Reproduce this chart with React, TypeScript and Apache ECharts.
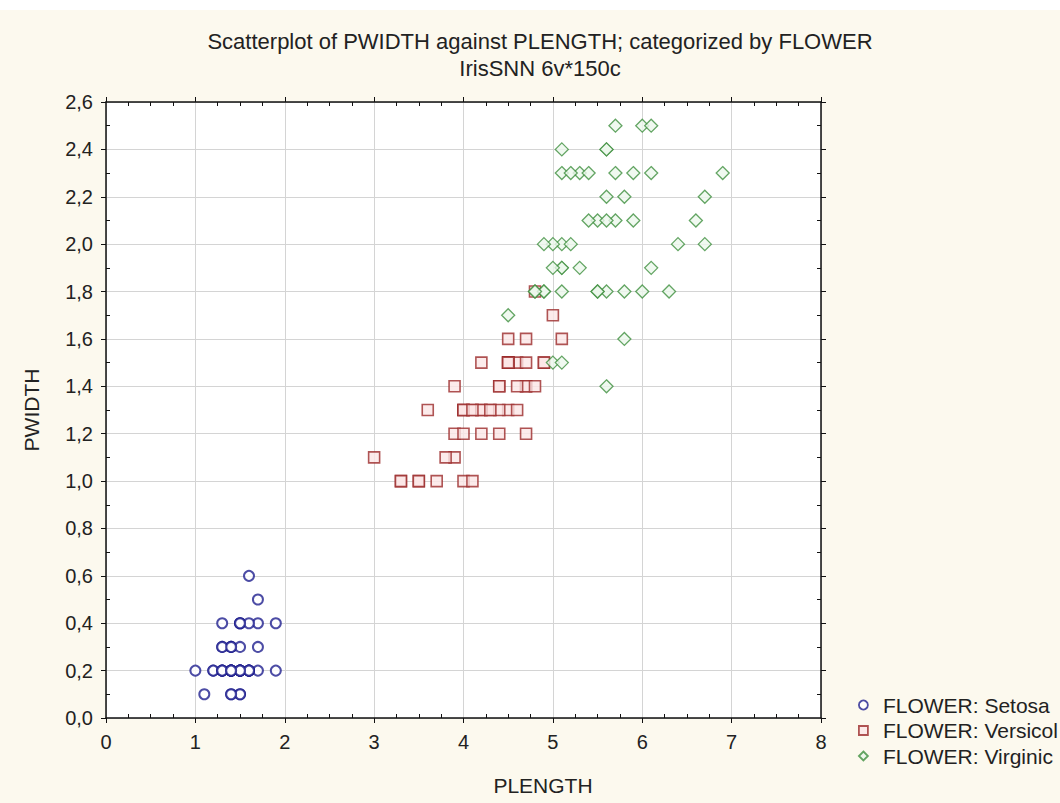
import React, { useEffect, useRef } from "react";
import * as echarts from "echarts";

// Petal length / width per species
const setosaPL = [1.4,1.4,1.3,1.5,1.4,1.7,1.4,1.5,1.4,1.5,1.5,1.6,1.4,1.1,1.2,1.5,1.3,1.4,1.7,1.5,1.7,1.5,1.0,1.7,1.9,1.6,1.6,1.5,1.4,1.6,1.6,1.5,1.5,1.4,1.5,1.2,1.3,1.4,1.3,1.5,1.3,1.3,1.3,1.6,1.9,1.4,1.6,1.4,1.5,1.4];
const setosaPW = [0.2,0.2,0.2,0.2,0.2,0.4,0.3,0.2,0.2,0.1,0.2,0.2,0.1,0.1,0.2,0.4,0.4,0.3,0.3,0.3,0.2,0.4,0.2,0.5,0.2,0.2,0.4,0.2,0.2,0.2,0.2,0.4,0.1,0.2,0.2,0.2,0.2,0.1,0.2,0.2,0.3,0.3,0.2,0.6,0.4,0.3,0.2,0.2,0.2,0.2];
const versicolorPL = [4.7,4.5,4.9,4.0,4.6,4.5,4.7,3.3,4.6,3.9,3.5,4.2,4.0,4.7,3.6,4.4,4.5,4.1,4.5,3.9,4.8,4.0,4.9,4.7,4.3,4.4,4.8,5.0,4.5,3.5,3.8,3.7,3.9,5.1,4.5,4.5,4.7,4.4,4.1,4.0,4.4,4.6,4.0,3.3,4.2,4.2,4.2,4.3,3.0,4.1];
const versicolorPW = [1.4,1.5,1.5,1.3,1.5,1.3,1.6,1.0,1.3,1.4,1.0,1.5,1.0,1.4,1.3,1.4,1.5,1.0,1.5,1.1,1.8,1.3,1.5,1.2,1.3,1.4,1.4,1.7,1.5,1.0,1.1,1.0,1.2,1.6,1.5,1.6,1.5,1.3,1.3,1.3,1.2,1.4,1.2,1.0,1.3,1.2,1.3,1.3,1.1,1.3];
const virginicaPL = [6.0,5.1,5.9,5.6,5.8,6.6,4.5,6.3,5.8,6.1,5.1,5.3,5.5,5.0,5.1,5.3,5.5,6.7,6.9,5.0,5.7,4.9,6.7,4.9,5.7,6.0,4.8,4.9,5.6,5.8,6.1,6.4,5.6,5.1,5.6,6.1,5.6,5.5,4.8,5.4,5.6,5.1,5.1,5.9,5.7,5.2,5.0,5.2,5.4,5.1];
const virginicaPW = [2.5,1.9,2.1,1.8,2.2,2.1,1.7,1.8,1.8,2.5,2.0,1.9,2.1,2.0,2.4,2.3,1.8,2.2,2.3,1.5,2.3,2.0,2.0,1.8,2.1,1.8,1.8,1.8,2.1,1.6,1.9,2.0,2.2,1.5,1.4,2.3,2.4,1.8,1.8,2.1,2.4,2.3,1.9,2.3,2.5,2.3,1.9,2.0,2.3,1.8];

// Legend labels as they are visible in the reference (cut by the window edge)
const seriesNames = ["FLOWER: Setosa", "FLOWER: Versicol", "FLOWER: Virginic"];
const titleText = "Scatterplot of PWIDTH against PLENGTH; categorized by FLOWER";
const subtitleText = "IrisSNN 6v*150c";
const xName = "PLENGTH";
const yName = "PWIDTH";

const FONT = "'Liberation Sans', Arial, sans-serif";

const zip = (a: number[], b: number[]) => a.map((v, i) => [v, b[i]]);

const styles = [
  { symbol: "circle", size: 10, itemStyle: { color: "#ffffff", borderColor: "#1f1f8f", borderWidth: 2 } },
  { symbol: "rect", size: 11, itemStyle: { color: "#fbe6e6", borderColor: "#9b2a2a", borderWidth: 1.6 } },
  { symbol: "diamond", size: 13, itemStyle: { color: "#ecf7ec", borderColor: "#3d8f3d", borderWidth: 1.3 } },
];

export default function App() {
  const ref = useRef<HTMLDivElement>(null);
  useEffect(() => {
    document.body.style.margin = "0";
    const chart = echarts.init(ref.current!, null, { renderer: "svg" });
    const datasets = [zip(setosaPL, setosaPW), zip(versicolorPL, versicolorPW), zip(virginicaPL, virginicaPW)];
    const axisLine = { show: true, onZero: false, lineStyle: { color: "#111", width: 1.5 } };
    const tickStyle = { color: "#111", width: 1 };
    const xCommon = {
      type: "value", min: 0, max: 8, interval: 1,
      axisLine,
      axisTick: { show: true, length: 5, lineStyle: tickStyle },
      minorTick: { show: true, splitNumber: 4, length: -4, lineStyle: tickStyle },
    };
    const yCommon = {
      type: "value", min: 0, max: 2.6, interval: 0.2,
      axisLine,
      axisTick: { show: true, length: 5, lineStyle: tickStyle },
      minorTick: { show: true, splitNumber: 2, length: -4, lineStyle: tickStyle },
    };
    chart.setOption({
      animation: false,
      backgroundColor: "transparent",
      textStyle: { fontFamily: FONT },
      grid: { left: 106, top: 102, width: 715, height: 616, show: true, backgroundColor: "#ffffff", borderColor: "#111", borderWidth: 0 },
      xAxis: [
        {
          ...xCommon, position: "bottom",
          axisLabel: { show: true, fontSize: 20, color: "#222", margin: 14, fontFamily: FONT },
          splitLine: { show: true, lineStyle: { color: "#d4d4d4", width: 1 } },
        },
        { ...xCommon, position: "top", axisLabel: { show: false }, splitLine: { show: false } },
      ],
      yAxis: [
        {
          ...yCommon, position: "left",
          name: yName, nameLocation: "middle", nameRotate: 90, nameGap: 64,
          nameTextStyle: { fontSize: 21, color: "#222", fontFamily: FONT },
          axisLabel: { show: true, fontSize: 20, color: "#222", margin: 13, fontFamily: FONT,
            formatter: (v: number) => v.toFixed(1).replace(".", ",") },
          splitLine: { show: true, lineStyle: { color: "#d4d4d4", width: 1 } },
        },
        { ...yCommon, position: "right", axisLabel: { show: false }, splitLine: { show: false } },
      ],
      legend: {
        orient: "vertical", left: 853, top: 689, itemWidth: 9, itemHeight: 9, itemGap: 3.5,
        textStyle: { fontSize: 21, color: "#222", fontFamily: FONT, lineHeight: 22, padding: [0, 0, 0, 10] },
        data: seriesNames.map((n, i) => ({ name: n, icon: styles[i].symbol, itemStyle: { ...styles[i].itemStyle, borderWidth: 1.8 } })),
      },
      graphic: [
        { type: "text", x: 540, y: 41, style: { text: titleText, fontSize: 22, fontFamily: FONT, fill: "#222", textAlign: "center", textVerticalAlign: "middle" } },
        { type: "text", x: 540, y: 68, style: { text: subtitleText, fontSize: 22, fontFamily: FONT, fill: "#222", textAlign: "center", textVerticalAlign: "middle" } },
        { type: "text", x: 543, y: 785, style: { text: xName, fontSize: 21, fontFamily: FONT, fill: "#222", textAlign: "center", textVerticalAlign: "middle" } },
      ],
      series: datasets.map((d, i) => ({
        name: seriesNames[i], type: "scatter", xAxisIndex: 0, yAxisIndex: 0,
        symbol: styles[i].symbol, symbolSize: styles[i].size, itemStyle: styles[i].itemStyle,
        data: d,
      })),
    });
    return () => chart.dispose();
  }, []);
  return (
    <div
      ref={ref}
      style={{ width: 1060, height: 803, background: "linear-gradient(#ffffff 0px, #ffffff 10px, #fcf9ee 10px, #fcf9ee 100%)" }}
    />
  );
}
